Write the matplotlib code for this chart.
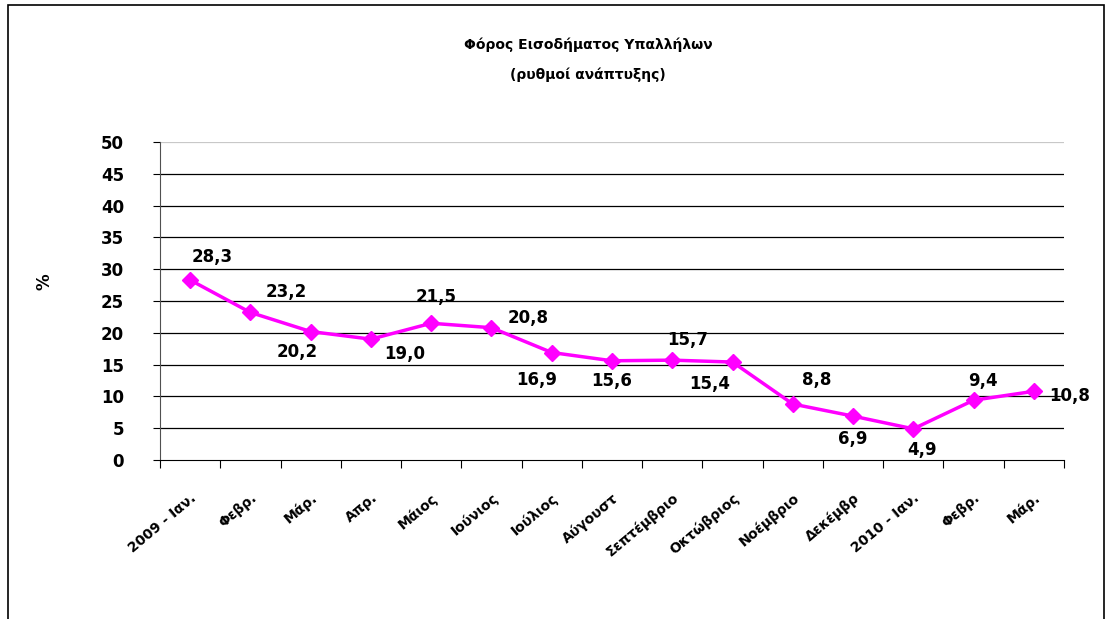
import matplotlib
matplotlib.use("Agg")
import matplotlib.pyplot as plt
from matplotlib.patches import Rectangle

plt.rcParams['font.family'] = ['DejaVu Sans']
plt.rcParams['font.weight'] = 'bold'

months = ["2009 - Ιαν.", "Φεβρ.", "Μάρ.", "Απρ.", "Μάιος", "Ιούνιος", "Ιούλιος",
          "Αύγουστ", "Σεπτέμβριο", "Οκτώβριος", "Νοέμβριο", "Δεκέμβρ",
          "2010 - Ιαν.", "Φεβρ.", "Μάρ."]
rates = [28.3, 23.2, 20.2, 19.0, 21.5, 20.8, 16.9, 15.6, 15.7, 15.4, 8.8, 6.9, 4.9, 9.4, 10.8]

# label offsets in pixels (dx right, dy up)
lblOff = [(22, 23), (36, 20), (-13, -20), (34, -15), (5, 26), (37, 10), (-15, -27),
          (0, -20), (15, 20), (-23, -22), (24, 24), (0, -23), (9, -21), (9, 19), (36, -5)]

W, H = 1113, 619
fig = plt.figure(figsize=(W/100, H/100), dpi=100)
fig.patches.append(Rectangle((8/W, -0.02), 1096/W, 1-5/H+0.02, transform=fig.transFigure,
                             fill=False, edgecolor='black', linewidth=1.2))

ax = fig.add_axes([160/W, 1-460/H, 904/W, 318/H])
x = list(range(len(rates)))
ax.plot(x, rates, color='#FF00FF', linewidth=2.5, marker='D', markersize=8,
        markerfacecolor='#FF00FF', markeredgecolor='#FF00FF', zorder=3)

for i, v in enumerate(rates):
    ax.annotate(f"{v:.1f}".replace('.', ','), (i, v), xytext=(lblOff[i][0]*0.72, lblOff[i][1]*0.72),
                textcoords='offset points', ha='center', va='center', fontsize=12, fontweight='bold')

ax.set_xlim(-0.5, len(rates)-0.5)
ax.set_ylim(0, 50)
ax.set_yticks(range(0, 55, 5))
ax.set_yticklabels([str(t) for t in range(0, 55, 5)], fontsize=12, fontweight='bold')
for t in range(5, 55, 5):
    ax.axhline(t, color='#C8C8C8' if t == 50 else 'black', linewidth=0.9, zorder=1)

ax.set_xticks([i - 0.5 for i in range(len(rates)+1)])
ax.set_xticklabels([])
ax.set_xticks(x, minor=True)
ax.set_xticklabels(months, minor=True, rotation=40, ha='right', rotation_mode='anchor',
                   fontsize=10, fontweight='bold')
ax.tick_params(axis='x', which='minor', length=0, pad=22)
ax.tick_params(axis='x', which='major', length=6, direction='out')
ax.tick_params(axis='y', length=5, direction='out', pad=21)

for s in ['top', 'right']:
    ax.spines[s].set_visible(False)
ax.spines['left'].set_color('#505050')
ax.spines['bottom'].set_color('black')

fig.text(588/W, 1-45/H, "Φόρος Εισοδήματος Υπαλλήλων", ha='center', va='center',
         fontsize=10, fontweight='bold')
fig.text(588/W, 1-75/H, "(ρυθμοί ανάπτυξης)", ha='center', va='center',
         fontsize=10, fontweight='bold')
fig.text(45/W, 1-282/H, "%", ha='center', va='center', rotation=90, fontsize=12, fontweight='bold')

fig.savefig("out.png", dpi=100)
